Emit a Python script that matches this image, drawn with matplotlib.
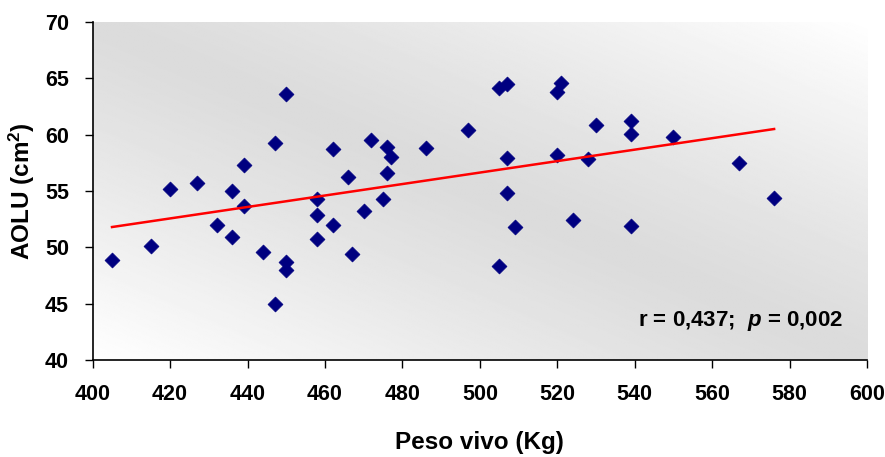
import matplotlib
matplotlib.use('Agg')
import matplotlib.pyplot as plt
import numpy as np

# Peso vivo (kg) vs AOLU (cm2)
peso_vivo = [405, 415, 420, 427, 432, 436, 436, 439, 439, 444, 447, 447,
             450, 450, 450, 458, 458, 458, 462, 462, 466, 467,
             470, 472, 475, 476, 476, 477, 486, 497, 505, 507, 505, 507,
             507, 509, 520, 521, 520, 524, 528, 530,
             539, 539, 539, 550, 567, 576]
aolu = [48.9, 50.1, 55.2, 55.7, 52.0, 55.0, 50.9, 57.3, 53.7, 49.6, 59.3, 45.0,
        63.6, 48.7, 48.0, 54.3, 52.9, 50.7, 58.7, 52.0, 56.2, 49.4,
        53.2, 59.5, 54.3, 58.9, 56.6, 58.0, 58.8, 60.4, 64.1, 64.5, 48.3, 57.9,
        54.8, 51.8, 63.8, 64.6, 58.2, 52.4, 57.8, 60.9,
        61.2, 60.1, 51.9, 59.8, 57.5, 54.4]

# regression line end points as drawn
trend_x = [405, 576]
trend_y = [51.8, 60.5]

x_ticks = list(range(400, 601, 20))
y_ticks = list(range(40, 71, 5))

plt.rcParams['font.family'] = ['Liberation Sans', 'DejaVu Sans']
plt.rcParams['font.weight'] = 'bold'
plt.rcParams['mathtext.fontset'] = 'custom'
plt.rcParams['mathtext.rm'] = 'Liberation Sans:bold'
plt.rcParams['mathtext.bf'] = 'Liberation Sans:bold'
plt.rcParams['mathtext.it'] = 'Liberation Sans:bold:italic'
plt.rcParams['mathtext.bfit'] = 'Liberation Sans:bold:italic'

fig = plt.figure(figsize=(8.85, 4.57), dpi=100)
ax = fig.add_axes([0.1047, 0.2123, 0.9797 - 0.1047, 0.9519 - 0.2123])

# diagonal gradient background: light at lower-left and upper-right, gray in the middle
u, v = np.meshgrid(np.linspace(0, 1, 300), np.linspace(0, 1, 300))
d = np.abs(u + v - 1)
shade = 0.86 + 0.14 * d ** 1.2
ax.imshow(shade, cmap='gray', vmin=0, vmax=1, origin='lower', extent=[0, 1, 0, 1],
          transform=ax.transAxes, aspect='auto', zorder=0, interpolation='bilinear')

ax.scatter(peso_vivo, aolu, marker='D', s=7.6 ** 2, color='#000080',
           edgecolors='#000080', linewidths=0.5, zorder=3)
ax.plot(trend_x, trend_y, color='#ff0000', linewidth=1.8, zorder=4)

ax.text(593.8, 43.5, r'r = 0,437;  $\mathit{p}$ = 0,002', ha='right', va='center',
        fontsize=16, fontweight='bold', zorder=5)

ax.set_xlim(400, 600)
ax.set_ylim(40, 70)
ax.set_xticks(x_ticks)
ax.set_yticks(y_ticks)
ax.tick_params(axis='both', direction='out', length=6, width=1, labelsize=15.5, color='black')
ax.tick_params(axis='x', pad=11)
ax.tick_params(axis='y', pad=11)
for lab in ax.get_xticklabels() + ax.get_yticklabels():
    lab.set_fontweight('bold')

ax.spines['top'].set_visible(False)
ax.spines['right'].set_visible(False)
ax.spines['left'].set_linewidth(1.2)
ax.spines['bottom'].set_linewidth(1.2)

ax.set_xlabel('Peso vivo (Kg)', fontsize=17.5, fontweight='bold', labelpad=19)
ax.set_ylabel(r'AOLU (cm$^{\mathbf{2}}$)', fontsize=17.5, fontweight='bold', labelpad=6)

fig.savefig('out.png', dpi=100)
plt.close(fig)
